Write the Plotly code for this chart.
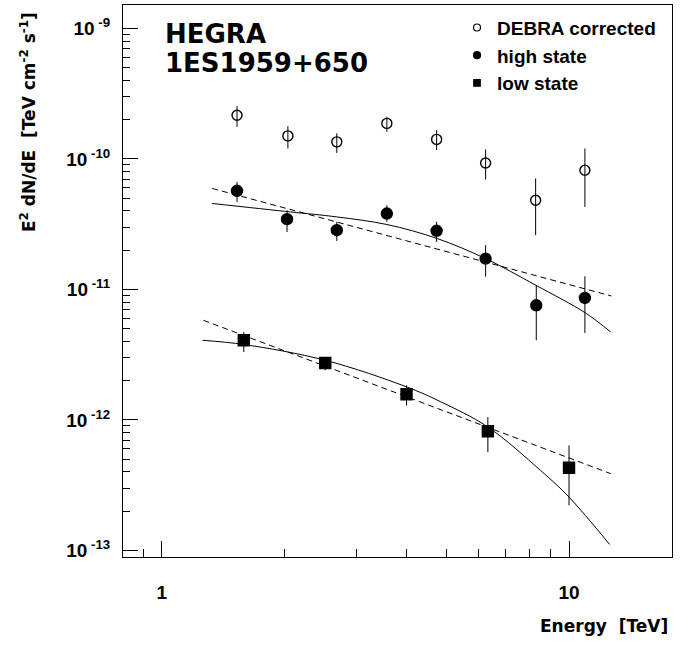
import plotly.graph_objects as go

# ---------------- data ----------------
debra_E = [1.53, 2.04, 2.69, 3.57, 4.73, 6.24, 8.28, 10.94]
debra_F = [2.16e-10, 1.50e-10, 1.35e-10, 1.87e-10, 1.41e-10, 9.3e-11, 4.82e-11, 8.19e-11]
debra_hi = [2.54e-10, 1.78e-10, 1.57e-10, 2.10e-10, 1.66e-10, 1.18e-10, 7.08e-11, 1.20e-10]
debra_lo = [1.76e-10, 1.20e-10, 1.11e-10, 1.61e-10, 1.17e-10, 6.95e-11, 2.60e-11, 4.28e-11]

high_E = [1.53, 2.03, 2.69, 3.57, 4.73, 6.24, 8.31, 10.94]
high_F = [5.69e-11, 3.45e-11, 2.84e-11, 3.81e-11, 2.81e-11, 1.72e-11, 7.55e-12, 8.59e-12]
high_hi = [6.66e-11, 4.04e-11, 3.29e-11, 4.42e-11, 3.29e-11, 2.18e-11, 1.075e-11, 1.26e-11]
high_lo = [4.68e-11, 2.75e-11, 2.35e-11, 3.29e-11, 2.31e-11, 1.25e-11, 4.07e-12, 4.63e-12]

low_E = [1.59, 2.52, 3.99, 6.32, 10.0]
low_F = [4.07e-12, 2.73e-12, 1.57e-12, 8.17e-13, 4.30e-13]
low_hi = [4.71e-12, 3.03e-12, 1.84e-12, 1.05e-12, 6.37e-13]
low_lo = [3.31e-12, 2.40e-12, 1.29e-12, 5.66e-13, 2.21e-13]

# fitted curves
high_pl_E = [1.33, 12.7]
high_pl_F = [5.93e-11, 8.90e-12]
high_cut_E = [1.33, 2.07, 2.69, 3.57, 4.75, 6.24, 8.29, 10.97, 12.66]
high_cut_F = [4.55e-11, 3.92e-11, 3.59e-11, 3.14e-11, 2.45e-11, 1.72e-11, 1.075e-11, 6.6e-12, 4.71e-12]

low_pl_E = [1.266, 12.66]
low_pl_F = [5.79e-12, 3.87e-13]
low_cut_E = [1.26, 1.59, 2.52, 3.99, 4.83, 6.32, 8.51, 10.0, 12.58]
low_cut_F = [4.07e-12, 3.78e-12, 2.86e-12, 1.79e-12, 1.38e-12, 8.81e-13, 4.10e-13, 2.56e-13, 1.11e-13]

legend_names = ["DEBRA corrected", "high state", "low state"]

x_major = [1, 10]
x_major_text = ["1", "10"]
x_minor = [0.9, 2, 3, 4, 5, 6, 7, 8, 9]
y_exps = [-13, -12, -11, -10, -9]
# -----------------------------------------------------------

def errs(v, hi, lo):
    return [h - a for a, h in zip(v, hi)], [a - l for a, l in zip(v, lo)]

fig = go.Figure()

for xs, ys, dash in [(high_pl_E, high_pl_F, "6px,4px"), (high_cut_E, high_cut_F, "solid"),
                     (low_pl_E, low_pl_F, "6px,4px"), (low_cut_E, low_cut_F, "solid")]:
    fig.add_trace(go.Scatter(x=xs, y=ys, mode="lines", showlegend=False, hoverinfo="skip",
                             line=dict(color="black", width=1, dash=dash, shape="spline")))

for xs, ys, hi, lo, sym, size in [(debra_E, debra_F, debra_hi, debra_lo, "circle-open", 10),
                                  (high_E, high_F, high_hi, high_lo, "circle", 11),
                                  (low_E, low_F, low_hi, low_lo, "square", 11)]:
    up, dn = errs(ys, hi, lo)
    fig.add_trace(go.Scatter(
        x=xs, y=ys, mode="markers", showlegend=False,
        marker=dict(symbol=sym, size=size, color="black", line=dict(color="black", width=1.4)),
        error_y=dict(type="data", symmetric=False, array=up, arrayminus=dn,
                     color="black", thickness=1, width=0)))

# legend entries
for i, (name, sym) in enumerate(zip(legend_names, ["circle-open", "circle", "square"])):
    fig.add_trace(go.Scatter(x=[None], y=[None], mode="markers", name=name,
                             legendgroup=f"g{i}",
                             marker=dict(symbol=sym, size=7 if sym != "square" else 6.5,
                                         color="black", line=dict(color="black", width=1.2))))

fig.update_layout(
    width=691, height=646, autosize=False,
    paper_bgcolor="white", plot_bgcolor="white",
    margin=dict(l=123, r=19, t=5, b=89),
    font=dict(family="Liberation Sans, Arial, sans-serif", color="black"),
    legend=dict(x=0.6084, xanchor="left", y=0.9934, yanchor="top",
                font=dict(family="Liberation Sans, Arial, sans-serif", size=19, weight="bold"),
                tracegroupgap=0, itemwidth=30, bgcolor="rgba(0,0,0,0)"),
)

fig.update_xaxes(
    type="log", range=[-0.0953, 1.2529],
    showline=True, linecolor="black", linewidth=1, mirror=True,
    showgrid=False, zeroline=False,
    tickmode="array", tickvals=x_major, ticktext=x_major_text,
    ticks="inside", ticklen=16, tickwidth=1, tickcolor="black",
    tickfont=dict(family="Liberation Sans, Arial, sans-serif", size=19, weight="bold"),
    ticklabelstandoff=18,
    minor=dict(tickmode="array", tickvals=x_minor, ticks="inside", ticklen=8,
               tickwidth=1, tickcolor="black", showgrid=False),
)

y_minor = [k * 10.0 ** e for e in y_exps[:-1] for k in range(2, 10)]
fig.update_yaxes(
    type="log", range=[-13.051, -8.821],
    showline=True, linecolor="black", linewidth=1, mirror=True,
    showgrid=False, zeroline=False,
    tickmode="array", tickvals=[10.0 ** e for e in y_exps],
    ticktext=[f"10<sup> {e}</sup>" for e in y_exps],
    ticks="inside", ticklen=15, tickwidth=1, tickcolor="black",
    tickfont=dict(family="Liberation Sans, Arial, sans-serif", size=19, weight="bold"),
    ticklabelstandoff=8,
    minor=dict(tickmode="array", tickvals=y_minor, ticks="inside", ticklen=7,
               tickwidth=1, tickcolor="black", showgrid=False),
)

wide = dict(family="DejaVu Sans, sans-serif", weight="bold", color="black")
fig.add_annotation(text="HEGRA", xref="paper", yref="paper", x=0.0734, y=0.947,
                   xanchor="left", yanchor="middle", showarrow=False,
                   font=dict(size=26, **wide))
fig.add_annotation(text="1ES1959+650", xref="paper", yref="paper", x=0.0734, y=0.8956,
                   xanchor="left", yanchor="middle", showarrow=False,
                   font=dict(size=26, **wide))
fig.add_annotation(text="E<sup>2</sup> dN/dE  [TeV cm<sup>-2</sup> s<sup>-1</sup>]",
                   xref="paper", yref="paper", x=-0.173, y=0.9909,
                   xanchor="center", yanchor="top", textangle=-90, showarrow=False,
                   font=dict(size=17, **wide))
fig.add_annotation(text="Energy  [TeV]", xref="paper", yref="paper", x=0.9969, y=-0.1247,
                   xanchor="right", yanchor="middle", showarrow=False,
                   font=dict(size=17, **wide))

fig.write_html("out.html", config={"displayModeBar": False},
               post_script="document.body.style.margin='0';document.body.style.overflow='hidden';")
